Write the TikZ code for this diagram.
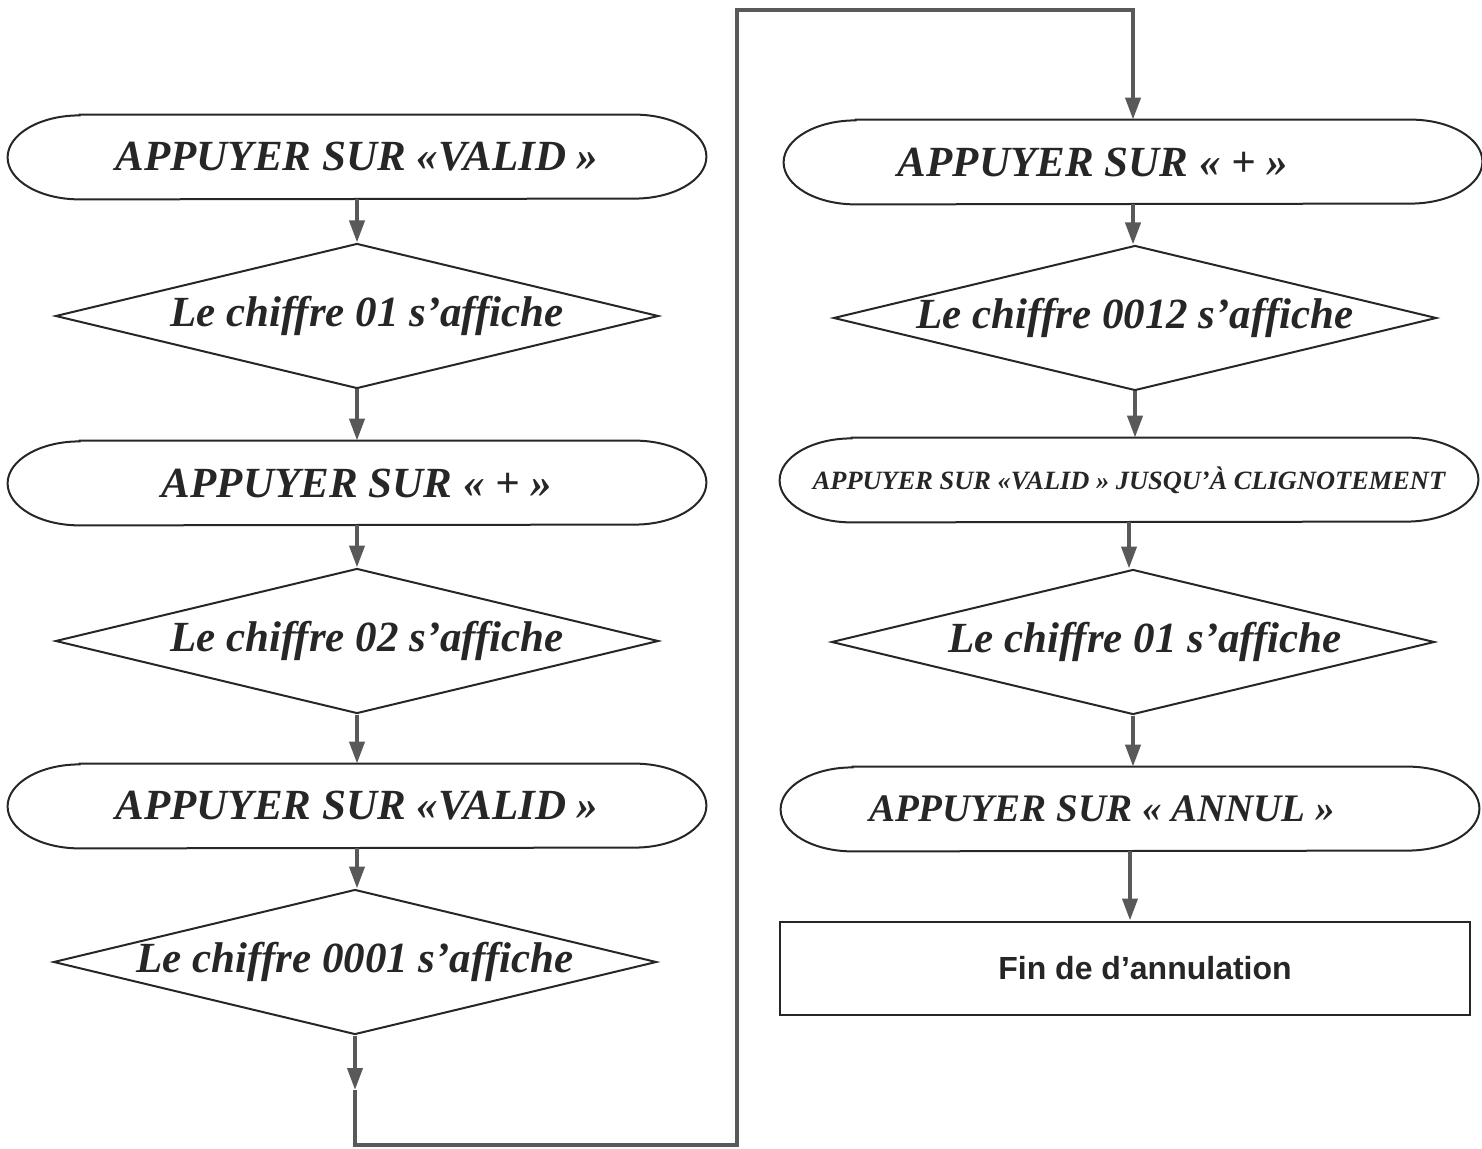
\documentclass[tikz,border=0pt]{standalone}
\usepackage{fontspec}
\setmainfont{Liberation Serif}
\setsansfont{Liberation Sans}
\usetikzlibrary{shapes.geometric, positioning, arrows.meta}

\begin{document}
\begin{tikzpicture}[x=0.5pt, y=0.5pt,
    term/.style={rectangle, minimum width=349pt, minimum height=42pt, inner sep=0pt,
        text=black!85, font=\bfseries\itshape\fontsize{21.5}{24}\selectfont},
    termline/.style={draw=black!85, line width=1pt},
    test/.style={diamond, draw=black!85, line width=1pt, aspect=4.16, inner sep=0pt,
        minimum width=301.5pt, minimum height=72.5pt,
        text=black!85, font=\bfseries\itshape\fontsize{21.5}{24}\selectfont},
    endbox/.style={rectangle, draw=black!85, line width=1pt, minimum width=345pt, minimum height=46.5pt,
        text=black!85, font=\sffamily\bfseries\fontsize{16}{19}\selectfont},
    flow/.style={draw=black!65, line width=2pt, line join=miter},
    >={Triangle[length=11pt, width=7.5pt]}
    ]
    \useasboundingbox (0,0) rectangle (1482,-1149);

    % left column
    \foreach \nm/\px/\py/\txt in {e1/357/157/{APPUYER SUR «VALID »},
                                  e2/357/483/{APPUYER SUR « + »},
                                  e3/357/806/{APPUYER SUR «VALID »}}
        \node[term] (\nm) at (\px,-\py) {\txt};
    \foreach \nm/\px/\py/\txt in {d1/357/316/{\hspace*{10pt}Le chiffre 01 s’affiche},
                                  d2/357/641/{\hspace*{10pt}Le chiffre 02 s’affiche},
                                  d3/355/962/{Le chiffre 0001 s’affiche}}
        \node[test] (\nm) at (\px,-\py) {\txt};

    % right column
    \node[term] (f1) at (1133,-162) {APPUYER SUR « + »\hspace*{40pt}};
    \node[test] (g1) at (1135,-318) {Le chiffre 0012 s’affiche};
    \node[term, font=\bfseries\itshape\fontsize{13.2}{15}\selectfont] (f2) at (1129,-480)
        {APPUYER SUR «VALID » JUSQU’À CLIGNOTEMENT};
    \node[test] (g2) at (1133,-642) {\hspace*{12pt}Le chiffre 01 s’affiche};
    \node[term, font=\bfseries\itshape\fontsize{19.5}{22}\selectfont] (f3) at (1130,-809)
        {APPUYER SUR « ANNUL »\hspace*{28pt}};
    \node[endbox] (fin) at (1125,-968) {\hspace*{20pt}Fin de d’annulation};

    % rounded outlines of the terminators
    \foreach \nm in {e1,e2,e3,f1,f2,f3}
        \draw[termline] ([xshift=36pt]\nm.north west) -- ([xshift=-36pt]\nm.north east)
            arc[start angle=90, end angle=-90, x radius=36pt, y radius=21pt]
            -- ([xshift=36pt]\nm.south west)
            arc[start angle=270, end angle=90, x radius=36pt, y radius=21pt] -- cycle;

    % downward arrows
    \foreach \a/\b in {e1/d1, d1/e2, e2/d2, d2/e3, e3/d3, f1/g1, g1/f2, f2/g2, g2/f3, f3/fin}
        \draw[flow, ->] (\a.south) -- (\a.south |- \b.north);

    % link from the bottom of the left column to the top of the right one
    \coordinate (lpmid) at (d3.south |- 0,-1090);
    \coordinate (lpbot) at (d3.south |- 0,-1145);
    \coordinate (lpright) at (737,-1145);
    \coordinate (lptop) at (737,-10);
    \coordinate (lpend) at (f1.north |- 0,-10);
    \draw[flow, ->] (d3.south) -- (lpmid);
    \draw[flow, ->] (lpmid) -- (lpbot) -- (lpright) -- (lptop) -- (lpend) -- (f1.north);
\end{tikzpicture}
\end{document}
